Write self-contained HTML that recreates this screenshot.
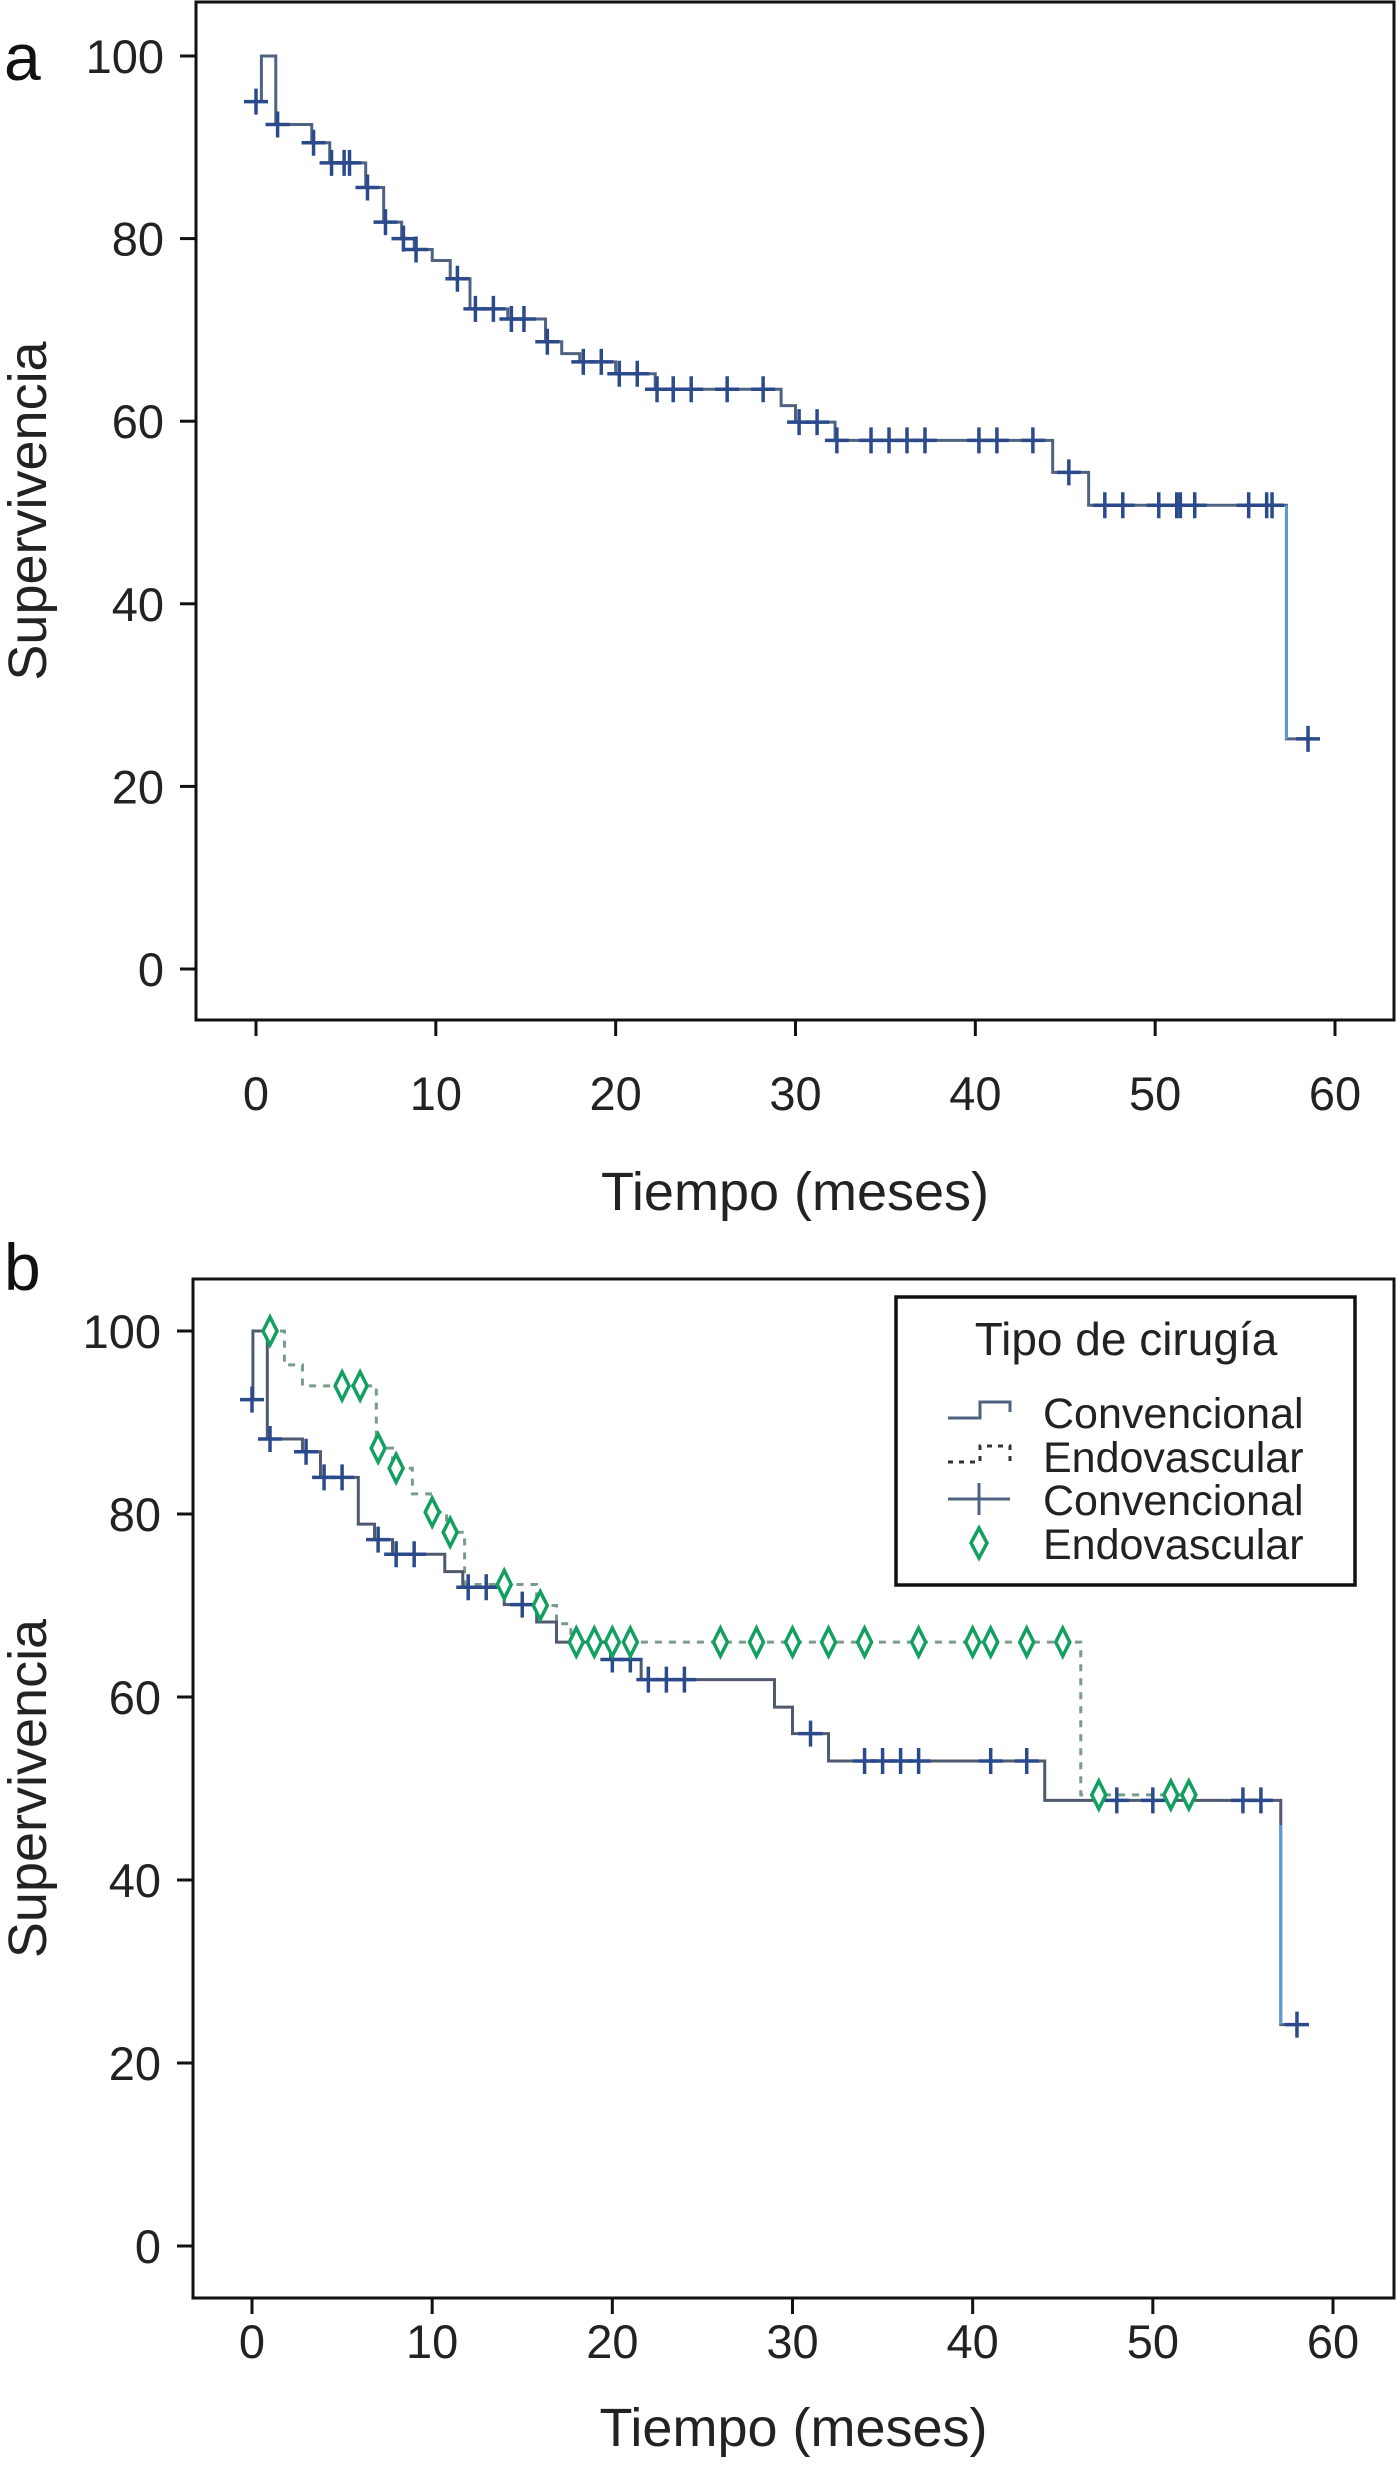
<!DOCTYPE html>
<html><head><meta charset="utf-8"><style>
html,body{margin:0;padding:0;background:#fff;}
svg{display:block;font-family:"Liberation Sans",sans-serif;}
</style></head><body>
<svg id="fig" width="1398" height="2485" viewBox="0 0 1398 2485"></svg>
<script>
// ---------- data ----------
const xTicks=[0,10,20,30,40,50,60];
const yTicks=[0,20,40,60,80,100];
// panel a: step times and survival after each step
const aStepT=[0.3,1.1,3.1,4.1,6.1,7.1,8.1,8.8,9.8,10.8,11.9,14,16.1,17,18,20,22.2,29.2,30,32.2,44.3,46.3,57.3];
const aStepS=[100,92.5,90.5,88.3,85.6,81.8,80,78.8,77.6,75.6,72.3,71.2,68.7,67.4,66.5,65.2,63.5,61.7,59.9,57.9,54.4,50.8,25.2];
const aStart=95, aEnd=58.5;
const aCens=[0,1.2,3.2,4.2,4.9,5.2,6.2,7.2,8.2,8.9,11.2,12.2,13.2,14.2,14.9,16.2,18.2,19.2,20.2,21.2,22.3,23.2,24.2,26.2,28.2,30.2,31.2,32.3,34.2,35.2,36.2,37.2,40.2,41.2,43.2,45.2,47.2,48.2,50.2,51.2,51.4,52.2,55.2,56.2,56.5,58.5];
// panel b conventional
const cStepT=[0.05,0.85,2.8,3.8,5.9,6.8,7.8,10.7,11.7,14,15.8,16.9,19.9,21.6,29,30,32,44,57.1];
const cStepS=[100,88.2,86.8,84,78.9,77.2,75.6,73.7,72,70.1,68.2,66,64.1,61.9,58.9,56,53,48.7,24.2];
const cStart=92.5, cEnd=58.2;
const cCens=[0,1,3,4,5,7,8,9,12,13,15,20,21,22,23,24,31,34,35,36,37,41,43,48,50,55,56,58];
// panel b endovascular
const eStepT=[0,1.8,2.8,6.9,7.8,8.9,9.9,10.8,11.8,15.8,16.9,17.7,46];
const eStepS=[100,96.3,94,87.2,85,82.2,80.2,78,72.3,70,68,66,49.3];
const eEnd=52.3;
const eCens=[1,5,6,7,8,10,11,14,16,18,19,20,21,26,28,30,32,34,37,40,41,43,45,47,51,52];

const NS="http://www.w3.org/2000/svg";
const svg=document.getElementById('fig');
function mk(tag,attrs,parent,text){const e=document.createElementNS(NS,tag);for(const k in attrs)e.setAttribute(k,attrs[k]);if(text!==undefined)e.textContent=text;(parent||svg).appendChild(e);return e;}

function valAt(T,S,start,t){let v=start;for(let i=0;i<T.length;i++){if(T[i]<=t+1e-9)v=S[i];}return v;}

function panel(p){
  const g=mk('g',{});
  
  
  const X=t=>p.x0+(p.x60-p.x0)*t/60, Y=v=>p.y0+(p.y100-p.y0)*v/100;
  const fr=mk('rect',{x:p.L,y:p.T,width:p.R-p.L,height:p.B-p.T,fill:'none',stroke:'#111','stroke-width':3},g);
  
  xTicks.forEach(t=>{
    const l=mk('line',{x1:X(t),x2:X(t),y1:p.B,y2:p.B+16,stroke:'#111','stroke-width':3},g);
    
    const tx=mk('text',{x:X(t),y:p.tickY,'font-size':47,'text-anchor':'middle',fill:'#222'},g,String(t));
    
  });
  yTicks.forEach(v=>{
    const l=mk('line',{x1:p.L-16,x2:p.L,y1:Y(v),y2:Y(v),stroke:'#111','stroke-width':3},g);
    
    const tx=mk('text',{x:p.L-32,y:Y(v)+17,'font-size':47,'text-anchor':'end',fill:'#222'},g,String(v));
    
  });
  const xt=mk('text',{x:(p.L+p.R)/2,y:p.xTitleY,'font-size':54,'text-anchor':'middle',fill:'#222'},g,'Tiempo (meses)');
  
  const yc=(p.T+p.B)/2;
  const yt=mk('text',{x:46,y:yc,'font-size':54,'text-anchor':'middle',fill:'#222',transform:`rotate(-90 46 ${yc})`},g,'Supervivencia');
  
  const lb=mk('text',{x:4,y:p.labelY,'font-size':66,fill:'#111'},g,p.label);
  
  return {g,X,Y};
}

function stepPath(X,Y,T,S,startV,end){
  let d=`M${X(T[0])},${Y(startV)}`;let cur=startV;
  for(let i=0;i<T.length;i++){d+=` L${X(T[i])},${Y(cur)} L${X(T[i])},${Y(S[i])}`;cur=S[i];}
  d+=` L${X(end)},${Y(cur)}`;return d;
}
function crosses(g,X,Y,T,S,start,C,color,name){
  C.forEach(t=>{const v=valAt(T,S,start,t);const cx=X(t),cy=Y(v);
    const c=mk('path',{d:`M${cx-12},${cy} L${cx+12},${cy} M${cx},${cy-13} L${cx},${cy+13}`,stroke:color,'stroke-width':3.5,fill:'none'},g);
    });
}

// panel a
const pa=panel({name:'panel-a',label:'a',labelY:80,L:196,R:1394,T:2,B:1020,x0:256,x60:1335,y0:969,y100:56,tickY:1110,xTitleY:1210});
const la=mk('path',{d:stepPath(pa.X,pa.Y,aStepT,aStepS,aStart,aEnd),fill:'none',stroke:'#4f6381','stroke-width':3},pa.g);

const la2=mk('line',{x1:pa.X(57.3),x2:pa.X(57.3),y1:pa.Y(50.8),y2:pa.Y(25.2),stroke:'#5b9bd5','stroke-width':3},pa.g);

crosses(pa.g,pa.X,pa.Y,aStepT,aStepS,aStart,aCens,'#2a4a8c','censor-mark');

// panel b
const pb=panel({name:'panel-b',label:'b',labelY:1290,L:193,R:1394,T:1279,B:2298,x0:252,x60:1333,y0:2246,y100:1331,tickY:2358,xTitleY:2446});
const le=mk('path',{d:stepPath(pb.X,pb.Y,eStepT,eStepS,100,eEnd),fill:'none',stroke:'#7a9a8a','stroke-width':3,'stroke-dasharray':'7,7'},pb.g);

const lc=mk('path',{d:stepPath(pb.X,pb.Y,cStepT,cStepS,cStart,cEnd),fill:'none',stroke:'#4f5a6e','stroke-width':3},pb.g);

const lc2=mk('line',{x1:pb.X(57.1),x2:pb.X(57.1),y1:pb.Y(46),y2:pb.Y(24.2),stroke:'#5b9bd5','stroke-width':3},pb.g);

crosses(pb.g,pb.X,pb.Y,cStepT,cStepS,cStart,cCens,'#2a4a8c','conventional-censor');
eCens.forEach(t=>{const v=valAt(eStepT,eStepS,100,t);const cx=pb.X(t),cy=pb.Y(v);
  const d=mk('path',{d:`M${cx},${cy-14} L${cx+7},${cy} L${cx},${cy+14} L${cx-7},${cy} Z`,fill:'#fff',stroke:'#12a060','stroke-width':3.5},pb.g);
  });

// legend
const lg=mk('g',{});

mk('rect',{x:896,y:1297,width:459,height:288,fill:'#fff',stroke:'#111','stroke-width':3.5},lg);
const lt=mk('text',{x:1126,y:1355,'font-size':46,'text-anchor':'middle',fill:'#222'},lg,'Tipo de cirugía');

const rows=[['Convencional','line'],['Endovascular','dash'],['Convencional','cross'],['Endovascular','diamond']];
const rowY=[1412,1456,1499,1543];
rows.forEach((r,i)=>{const y=rowY[i];
  const e=mk('g',{},lg);
  if(r[1]==='line')mk('path',{d:`M948,${y+6} L980,${y+6} L980,${y-10} L1010,${y-10} L1010,${y}`,fill:'none',stroke:'#4f6381','stroke-width':3},e);
  if(r[1]==='dash')mk('path',{d:`M948,${y+6} L980,${y+6} L980,${y-10} L1010,${y-10} L1010,${y+6}`,fill:'none',stroke:'#333','stroke-width':3,'stroke-dasharray':'5,6'},e);
  if(r[1]==='cross')mk('path',{d:`M948,${y} L1010,${y} M979,${y-16} L979,${y+16}`,stroke:'#4f6381','stroke-width':3},e);
  if(r[1]==='diamond')mk('path',{d:`M979,${y-15} L987,${y} L979,${y+15} L971,${y} Z`,fill:'#fff',stroke:'#12a060','stroke-width':3.5},e);
  mk('text',{x:1043,y:y+16,'font-size':43,fill:'#222'},e,r[0]);
});
</script>
</body></html>
